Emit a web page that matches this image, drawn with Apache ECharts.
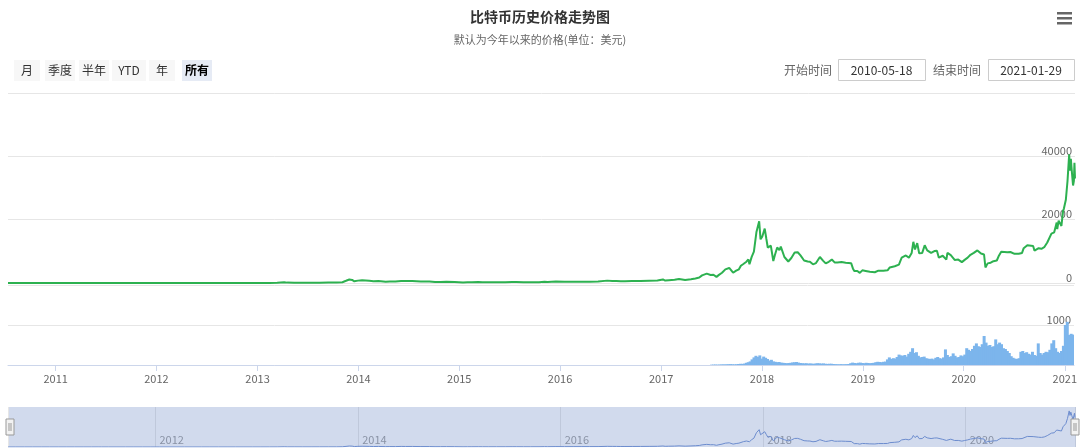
<!DOCTYPE html>
<html>
<head>
<meta charset="utf-8">
<script src="https://cdn.jsdelivr.net/npm/echarts@6/dist/echarts.min.js"></script>
<style>
html,body{margin:0;padding:0;background:#fff;}
#chart{width:1080px;height:448px;}
</style>
</head>
<body>
<div id="chart"></div>
<script>
// ---------------- DATA ----------------
const titleText = '比特币历史价格走势图';
const subtitleText = '默认为今年以来的价格(单位：美元)';
const rangeButtons = ['月', '季度', '半年', 'YTD', '年', '所有'];
const startLabel = '开始时间';
const endLabel = '结束时间';
const startDate = '2010-05-18';
const endDate = '2021-01-29';
const axisMin = '2010-07-18';
const axisMax = '2021-01-29';

const priceDates = [
'2010-07-18','2010-08-15','2010-09-15','2010-10-15','2010-11-15','2010-12-15',
'2011-01-15','2011-02-15','2011-03-15','2011-04-15','2011-05-15','2011-06-08','2011-06-20','2011-07-15','2011-08-15','2011-09-15','2011-10-15','2011-11-15','2011-12-15',
'2012-01-15','2012-02-15','2012-03-15','2012-04-15','2012-05-15','2012-06-15','2012-07-15','2012-08-15','2012-09-15','2012-10-15','2012-11-15','2012-12-15',
'2013-01-15','2013-02-15','2013-03-15','2013-04-09','2013-04-20','2013-05-15','2013-06-15','2013-07-15','2013-08-15','2013-09-15','2013-10-15','2013-11-05','2013-11-18','2013-11-30','2013-12-10','2013-12-18','2013-12-31',
'2014-01-15','2014-02-10','2014-02-25','2014-03-15','2014-04-10','2014-04-25','2014-05-15','2014-06-05','2014-06-20','2014-07-15','2014-08-15','2014-09-15','2014-10-05','2014-10-25','2014-11-15','2014-12-15',
'2015-01-14','2015-01-30','2015-02-15','2015-03-10','2015-03-25','2015-04-15','2015-05-15','2015-06-15','2015-07-10','2015-07-25','2015-08-20','2015-09-15','2015-10-15','2015-11-04','2015-11-15','2015-12-15',
'2016-01-15','2016-02-15','2016-03-15','2016-04-15','2016-05-15','2016-06-17','2016-07-05','2016-07-20','2016-08-05','2016-08-20','2016-09-15','2016-10-15','2016-11-15','2016-12-15',
'2017-01-04','2017-01-12','2017-01-25','2017-02-15','2017-03-03','2017-03-25','2017-04-15','2017-05-01','2017-05-15','2017-05-25','2017-06-01','2017-06-11','2017-06-25','2017-07-05','2017-07-16','2017-07-25','2017-08-05','2017-08-17','2017-08-31','2017-09-14','2017-09-25','2017-10-05','2017-10-12','2017-10-21','2017-11-01','2017-11-08','2017-11-12','2017-11-20','2017-11-28','2017-12-07','2017-12-17','2017-12-22','2017-12-28',
'2018-01-06','2018-01-12','2018-01-17','2018-01-28','2018-02-06','2018-02-12','2018-02-20','2018-02-28','2018-03-05','2018-03-18','2018-03-25','2018-04-01','2018-04-12','2018-04-24','2018-05-05','2018-05-15','2018-05-28','2018-06-10','2018-06-18','2018-06-29','2018-07-10','2018-07-24','2018-08-05','2018-08-14','2018-08-25','2018-09-05','2018-09-15','2018-09-25','2018-10-10','2018-10-25','2018-11-14','2018-11-20','2018-11-25','2018-12-06','2018-12-15','2018-12-24',
'2019-01-05','2019-01-20','2019-02-07','2019-02-20','2019-03-10','2019-03-25','2019-04-02','2019-04-20','2019-05-05','2019-05-15','2019-05-30','2019-06-10','2019-06-20','2019-06-26','2019-07-02','2019-07-10','2019-07-17','2019-07-28','2019-08-06','2019-08-15','2019-08-29','2019-09-10','2019-09-19','2019-09-26','2019-10-10','2019-10-23','2019-10-27','2019-11-08','2019-11-22','2019-12-05','2019-12-18','2019-12-28',
'2020-01-08','2020-01-18','2020-01-30','2020-02-12','2020-02-25','2020-03-07','2020-03-12','2020-03-20','2020-03-31','2020-04-10','2020-04-22','2020-04-30','2020-05-08','2020-05-15','2020-05-30','2020-06-10','2020-06-25','2020-07-10','2020-07-22','2020-07-28','2020-08-10','2020-08-17','2020-08-31','2020-09-05','2020-09-20','2020-09-30','2020-10-10','2020-10-21','2020-10-28','2020-11-05','2020-11-15','2020-11-24','2020-11-26','2020-12-01','2020-12-11','2020-12-17','2020-12-20','2020-12-27',
'2021-01-02','2021-01-08','2021-01-11','2021-01-14','2021-01-17','2021-01-22','2021-01-25','2021-01-27','2021-01-29'
];
const priceValues = [
0.09,0.07,0.06,0.10,0.27,0.24,
0.40,1.05,0.87,1.0,7,29,15,13.8,11,4.8,3.9,2.5,3.2,
6.8,4.8,5.4,4.9,5.0,6.4,8.1,13.5,11.8,11.8,11.2,13.5,
14.5,27,47,230,120,114,100,98,106,127,140,250,700,1120,980,520,750,
850,690,540,630,420,480,445,660,595,620,490,475,330,355,390,350,
180,230,235,290,245,222,237,235,290,287,230,230,255,400,330,455,
380,400,415,430,455,750,670,665,575,580,610,640,710,780,
1130,780,900,1010,1275,935,1180,1420,1710,2400,2410,2960,2540,2610,1930,2570,3230,4310,4740,3240,3910,4330,5440,6010,6730,7460,5950,8260,9900,16000,19500,13800,14600,
17200,13900,11200,11800,6950,8900,11200,10400,11500,8200,8500,6800,7900,9650,9700,8700,7100,6800,6700,5900,6300,8200,7000,6200,6700,7400,6500,6500,6600,6400,6200,4600,3800,3800,3200,4000,
3800,3550,3400,3900,3900,4000,4900,5300,5800,8000,8700,8000,9500,13000,10600,12600,9400,9500,11900,10300,9500,10100,10200,8000,8600,7400,9500,8800,7300,7400,6600,7300,
8000,8900,9500,10300,9300,9000,4900,6200,6400,6900,7100,8700,9900,9300,9700,9800,9200,9250,9500,11000,11900,12300,11700,10200,11000,10800,11300,12800,13300,15600,16000,19100,17000,19700,18000,22800,23500,26300,
32200,40600,35500,39200,35800,30800,32300,38000,33000
];

const volumeDates = [
'2017-07-02','2017-07-09','2017-07-16','2017-07-23','2017-07-30','2017-08-06','2017-08-13','2017-08-20','2017-08-27','2017-09-03','2017-09-10','2017-09-17','2017-09-24','2017-10-01','2017-10-08','2017-10-15','2017-10-22','2017-10-29','2017-11-05','2017-11-12','2017-11-19','2017-11-26','2017-12-03','2017-12-10','2017-12-17','2017-12-24','2017-12-31',
'2018-01-07','2018-01-14','2018-01-21','2018-01-28','2018-02-04','2018-02-11','2018-02-18','2018-02-25','2018-03-04','2018-03-11','2018-03-18','2018-03-25','2018-04-01','2018-04-08','2018-04-15','2018-04-22','2018-04-29','2018-05-06','2018-05-13','2018-05-20','2018-05-27','2018-06-03','2018-06-10','2018-06-17','2018-06-24','2018-07-01','2018-07-08','2018-07-15','2018-07-22','2018-07-29','2018-08-05','2018-08-12','2018-08-19','2018-08-26','2018-09-02','2018-09-09','2018-09-16','2018-09-23','2018-09-30','2018-10-07','2018-10-14','2018-10-21','2018-10-28','2018-11-04','2018-11-11','2018-11-18','2018-11-25','2018-12-02','2018-12-09','2018-12-16','2018-12-23','2018-12-30',
'2019-01-06','2019-01-13','2019-01-20','2019-01-27','2019-02-03','2019-02-10','2019-02-17','2019-02-24','2019-03-03','2019-03-10','2019-03-17','2019-03-24','2019-03-31','2019-04-07','2019-04-14','2019-04-21','2019-04-28','2019-05-05','2019-05-12','2019-05-19','2019-05-26','2019-06-02','2019-06-09','2019-06-16','2019-06-23','2019-06-30','2019-07-07','2019-07-14','2019-07-21','2019-07-28','2019-08-04','2019-08-11','2019-08-18','2019-08-25','2019-09-01','2019-09-08','2019-09-15','2019-09-22','2019-09-29','2019-10-06','2019-10-13','2019-10-20','2019-10-27','2019-11-03','2019-11-10','2019-11-17','2019-11-24','2019-12-01','2019-12-08','2019-12-15','2019-12-22','2019-12-29',
'2020-01-05','2020-01-12','2020-01-19','2020-01-26','2020-02-02','2020-02-09','2020-02-16','2020-02-23','2020-03-01','2020-03-08','2020-03-15','2020-03-22','2020-03-29','2020-04-05','2020-04-12','2020-04-19','2020-04-26','2020-05-03','2020-05-10','2020-05-17','2020-05-24','2020-05-31','2020-06-07','2020-06-14','2020-06-21','2020-06-28','2020-07-05','2020-07-12','2020-07-19','2020-07-26','2020-08-02','2020-08-09','2020-08-16','2020-08-23','2020-08-30','2020-09-06','2020-09-13','2020-09-20','2020-09-27','2020-10-04','2020-10-11','2020-10-18','2020-10-25','2020-11-01','2020-11-08','2020-11-15','2020-11-22','2020-11-29','2020-12-06','2020-12-13','2020-12-20','2020-12-27',
'2021-01-03','2021-01-10','2021-01-17','2021-01-24','2021-01-29'
];
const volumeValues = [
8,10,12,9,11,14,16,15,18,20,22,18,16,20,25,30,28,35,55,70,90,140,190,230,200,240,160,
210,180,150,110,130,90,80,70,75,60,55,50,45,50,55,65,70,75,60,50,45,40,45,35,40,35,30,40,45,40,35,40,30,28,30,32,25,22,20,18,22,18,20,22,25,45,60,50,45,55,60,50,
45,55,50,45,50,55,70,80,75,70,80,85,140,190,150,170,160,200,260,240,230,250,210,280,330,420,300,320,230,190,200,210,170,160,150,160,140,180,200,170,160,190,390,250,200,220,290,230,190,200,240,220,
260,420,380,350,400,480,540,470,450,520,725,560,480,500,450,470,640,520,560,520,420,400,350,300,220,180,160,150,170,330,350,300,320,280,260,330,250,230,540,300,260,300,330,320,380,540,620,420,330,300,350,480,
1000,1080,750,780,760
];

const priceTickStep = 20000;
const volumeTickStep = 1000;

// ---------------- CHART ----------------
const chart = echarts.init(document.getElementById('chart'), null, {renderer: 'canvas'});
const FONT = '"Noto Sans CJK SC", "Noto Sans", sans-serif';
const YEAR = 365 * 24 * 3600 * 1000;

const priceData = priceDates.map((d, i) => [d, priceValues[i]]);
const volumeData = volumeDates.map((d, i) => [d, volumeValues[i]]);

// buttons (graphic)
const btnCenters = [27, 60, 94, 129, 162, 197];
const btnWidths = [26, 30, 30, 34, 26, 30];
const graphics = [];
rangeButtons.forEach((t, i) => {
  const sel = i === rangeButtons.length - 1;
  graphics.push({
    type: 'rect', left: btnCenters[i] - btnWidths[i] / 2, top: 60,
    shape: {width: btnWidths[i], height: 21},
    style: {fill: sel ? '#e6ebf5' : '#f7f7f7'}
  });
  graphics.push({
    type: 'text', x: btnCenters[i], y: 70.5,
    style: {text: t, fill: sel ? '#000' : '#333', font: (sel ? 'bold ' : '') + '12px ' + FONT,
      textAlign: 'center', textVerticalAlign: 'middle'}
  });
});
graphics.push({type: 'text', x: 808, y: 70, style: {text: startLabel, fill: '#666', font: '12px ' + FONT, textAlign: 'center', textVerticalAlign: 'middle'}});
graphics.push({type: 'rect', left: 838, top: 59, shape: {width: 87, height: 21}, style: {fill: '#fff', stroke: '#cccccc', lineWidth: 1}});
graphics.push({type: 'text', x: 881.5, y: 70, style: {text: startDate, fill: '#333', font: '12px ' + FONT, textAlign: 'center', textVerticalAlign: 'middle'}});
graphics.push({type: 'text', x: 957, y: 70, style: {text: endLabel, fill: '#666', font: '12px ' + FONT, textAlign: 'center', textVerticalAlign: 'middle'}});
graphics.push({type: 'rect', left: 988, top: 59, shape: {width: 86, height: 21}, style: {fill: '#fff', stroke: '#cccccc', lineWidth: 1}});
graphics.push({type: 'text', x: 1031, y: 70, style: {text: endDate, fill: '#333', font: '12px ' + FONT, textAlign: 'center', textVerticalAlign: 'middle'}});
// hamburger menu
[13, 18, 23].forEach(y => {
  graphics.push({type: 'rect', left: 1057, top: y - 1, shape: {width: 15, height: 2.5}, style: {fill: '#666'}});
});

const plainNum = v => String(v);

const option = {
  animation: false,
  backgroundColor: '#fff',
  textStyle: {fontFamily: FONT},
  title: {
    text: titleText, subtext: subtitleText, left: 'center', top: 5, itemGap: 10,
    textStyle: {fontSize: 14, fontWeight: 'bold', color: '#333', fontFamily: FONT},
    subtextStyle: {fontSize: 11, color: '#666', fontFamily: FONT}
  },
  graphic: graphics,
  grid: [
    {left: 8, right: 5, top: 93, height: 190},
    {left: 8, right: 5, top: 285, height: 80},
    {left: 8, right: 5, top: 407, height: 40, show: true, backgroundColor: '#fff', borderWidth: 0}
  ],
  xAxis: [
    {type: 'time', gridIndex: 0, min: axisMin, max: axisMax, show: false},
    {type: 'time', gridIndex: 1, min: axisMin, max: axisMax,
      minInterval: YEAR, maxInterval: YEAR + 2 * 24 * 3600 * 1000,
      axisLine: {show: true, lineStyle: {color: '#ccd6eb'}},
      axisTick: {show: true, length: 6, lineStyle: {color: '#ccd6eb'}},
      splitLine: {show: false},
      axisLabel: {color: '#666', fontSize: 11, margin: 8, hideOverlap: false,
        formatter: v => String(new Date(v).getFullYear())}
    },
    {type: 'time', gridIndex: 2, min: axisMin, max: axisMax,
      minInterval: 2 * YEAR, maxInterval: 2 * YEAR + 2 * 24 * 3600 * 1000,
      axisLine: {show: false}, axisTick: {show: false},
      splitLine: {show: true, lineStyle: {color: '#e6e6e6', width: 1}},
      axisLabel: {inside: true, color: '#999', fontSize: 11, margin: 2, align: 'left', padding: [0, 0, 0, 4],
        formatter: v => String(new Date(v).getFullYear())}
    }
  ],
  yAxis: [
    {type: 'value', gridIndex: 0, position: 'right', min: 0, max: 60000, interval: priceTickStep,
      axisLine: {show: false}, axisTick: {show: false},
      splitLine: {lineStyle: {color: '#e6e6e6'}},
      axisLabel: {inside: true, showMaxLabel: false, color: '#666', fontSize: 11, margin: 3, verticalAlign: 'bottom', formatter: plainNum}
    },
    {type: 'value', gridIndex: 1, position: 'right', min: 0, max: 2000, interval: volumeTickStep,
      axisLine: {show: false}, axisTick: {show: false},
      splitLine: {lineStyle: {color: '#e6e6e6'}},
      axisLabel: {inside: true, showMaxLabel: false, color: '#666', fontSize: 11, margin: 3, verticalAlign: 'bottom', formatter: plainNum}
    },
    {type: 'value', gridIndex: 2, min: 0, max: 45000, show: false}
  ],
  dataZoom: [{
    type: 'slider', xAxisIndex: [0, 1], filterMode: 'none', start: 0, end: 100,
    left: 8, right: 5, top: 407, height: 40,
    backgroundColor: 'rgba(0,0,0,0)', borderColor: 'rgba(0,0,0,0)',
    fillerColor: 'rgba(102,133,194,0.3)',
    showDataShadow: false, showDetail: false, brushSelect: false,
    moveHandleSize: 0,
    handleIcon: 'path://M0,0 L8,0 L8,16 L0,16 Z M3,4 L3,12 M5,4 L5,12',
    handleSize: 16,
    handleStyle: {color: '#f2f2f2', borderColor: '#999999', borderWidth: 1},
    emphasis: {handleStyle: {color: '#f2f2f2', borderColor: '#999999'}},
    dataBackground: {lineStyle: {opacity: 0}, areaStyle: {opacity: 0}}
  }],
  series: [
    {type: 'line', name: '价格', xAxisIndex: 0, yAxisIndex: 0, data: priceData,
      showSymbol: false, lineStyle: {color: '#2db150', width: 2}, itemStyle: {color: '#2db150'}},
    {type: 'bar', name: '成交量', xAxisIndex: 1, yAxisIndex: 1, data: volumeData,
      barWidth: 3, itemStyle: {color: '#7cb5ec'}},
    {type: 'line', name: '导航', xAxisIndex: 2, yAxisIndex: 2, data: priceData,
      showSymbol: false, lineStyle: {color: '#6f90d3', width: 1}, itemStyle: {color: '#6f90d3'}}
  ]
};
chart.setOption(option);
</script>
</body>
</html>
